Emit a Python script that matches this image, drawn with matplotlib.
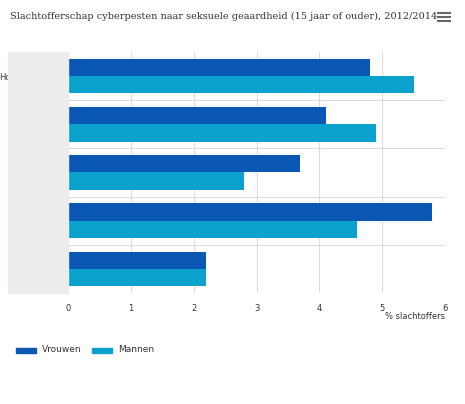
import matplotlib
matplotlib.use("Agg")
import matplotlib.pyplot as plt
import numpy as np

categories = ["Homo/lesbisch", "Bi", "Hetero", "Weet niet", "Weigert"]
vrouwen = [4.8, 4.1, 3.7, 5.8, 2.2]
mannen = [5.5, 4.9, 2.8, 4.6, 2.2]
ticks = [0, 1, 2, 3, 4, 5, 6]

DARK = "#0a58b4"
LIGHT = "#0aa2cc"

W, H = 465, 404
fig = plt.figure(figsize=(W / 100, H / 100), dpi=100)
ax = fig.add_axes([68 / W, 1 - 293 / H, (445 - 68) / W, (293 - 52) / H])

# grey band behind the category labels
fig.patches.append(plt.Rectangle((8 / W, 1 - 293 / H), 60 / W, (293 - 52) / H,
                                 transform=fig.transFigure, color="#ececec", zorder=0))

y = np.arange(len(categories))
h = 0.36
ax.barh(y - h / 2, vrouwen, height=h, color=DARK, zorder=3)
ax.barh(y + h / 2, mannen, height=h, color=LIGHT, zorder=3)
ax.set_ylim(len(categories) - 0.5, -0.5)
ax.set_xlim(0, 6)
ax.set_xticks(ticks)
ax.set_xticklabels([str(t) for t in ticks], fontsize=6, color="#333333")
ax.set_yticks(y)
ax.set_yticklabels(categories, fontsize=6, color="#333333")
ax.tick_params(length=0, pad=8)
ax.tick_params(axis="y", pad=8)
for lab in ax.get_yticklabels():
    lab.set_horizontalalignment("center")
    lab.set_x(-0.07)
ax.grid(axis="x", color="#dddddd", linewidth=0.8, zorder=0)
for i in range(len(categories) - 1):
    ax.axhline(i + 0.5, color="#dddddd", linewidth=0.8, zorder=1)
for s in ax.spines.values():
    s.set_visible(False)
ax.set_xlabel("% slachtoffers", fontsize=6, color="#333333", labelpad=4)
ax.xaxis.set_label_coords(1.0, -0.08)
ax.xaxis.label.set_horizontalalignment("right")

fig.text(10 / W, 1 - 16 / H,
         "Slachtofferschap cyberpesten naar seksuele geaardheid (15 jaar of ouder), 2012/2014",
         fontsize=7, family="DejaVu Serif", color="#333333", va="center")
# menu icon
for dy in (13, 17, 21):
    fig.lines.append(plt.Line2D([438 / W, 450 / W], [1 - dy / H] * 2,
                                transform=fig.transFigure, color="#666666", linewidth=1.5))

# legend
for x0, col, lab in [(16, DARK, "Vrouwen"), (92, LIGHT, "Mannen")]:
    fig.patches.append(plt.Rectangle((x0 / W, 1 - 353 / H), 20 / W, 5 / H,
                                     transform=fig.transFigure, color=col))
    fig.text((x0 + 26) / W, 1 - 350 / H, lab, fontsize=6.5, color="#333333", va="center")

fig.savefig("out.png", dpi=100)
